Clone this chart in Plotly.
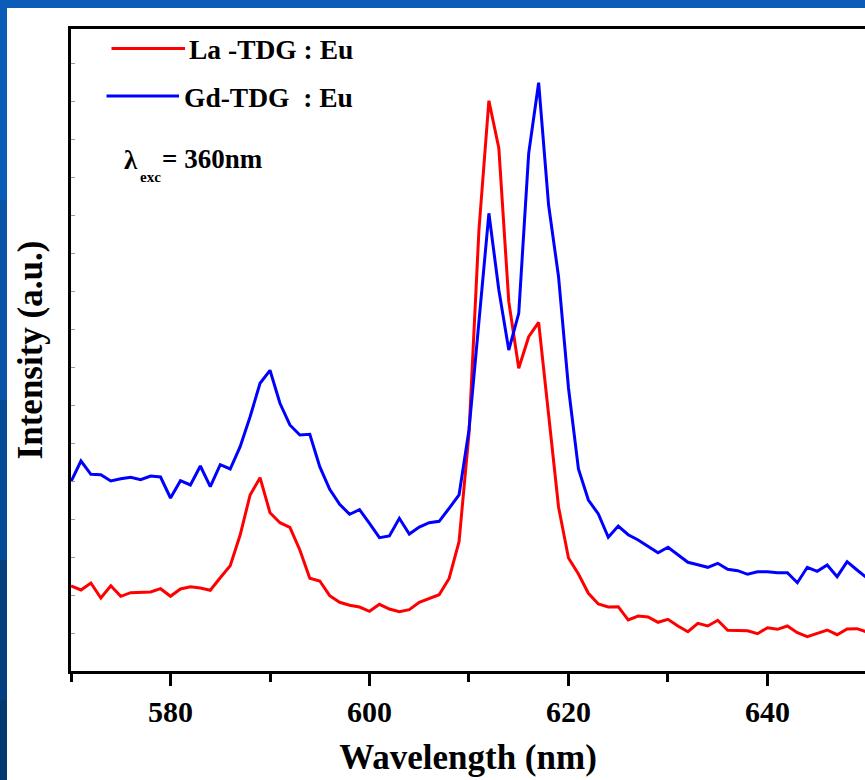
import plotly.graph_objects as go

wavelength = list(range(570, 651))

la_tdg_eu = [85, 81, 88, 73, 85.3, 74.7, 78.3, 78.7, 79, 82.3,
             74.7, 82, 84.3, 83, 80.7, 93.3, 105.3, 136, 176, 193.3,
             158.3, 148.3, 143.7, 121, 92.7, 90, 75.3, 68.7, 65.7, 64,
             59.7, 66.7, 62, 59.3, 61.3, 68.7, 72.7, 76.3, 92.5, 129.3,
             237.7, 441, 570.3, 522.7, 369.3, 302.7, 334.3, 348.7, 256.5, 164,
             113, 97, 77.7, 67, 64, 64.3, 51, 55, 54, 48.7,
             51.7, 45, 39.3, 47.7, 45, 50.7, 40.7, 40.7, 40.3, 37.3,
             43.3, 41.7, 45, 38.3, 34.3, 37.7, 41, 36.3, 42, 42.3, 39]

gd_tdg_eu = [189.3, 210, 196.7, 196.3, 190, 192.3, 193.7, 191.3, 195, 194,
             173, 190.3, 186, 205, 184.3, 206.3, 202, 224.3, 254.3, 287.7,
             300.7, 267.7, 246, 236, 236.7, 204.3, 181.7, 166.7, 156.7, 161.3,
             147.7, 133.3, 135, 152.7, 137, 144, 148.3, 149.7, 162.7, 176,
             241, 348, 457.7, 381, 321, 357.7, 517.7, 588.3, 466, 394.3,
             283, 202, 171, 157, 133.7, 145, 136.3, 131, 124.3, 118.3,
             123.7, 116.3, 108.7, 106.3, 103.7, 107.7, 101.7, 100.3, 96.7, 99.3,
             99.3, 98.3, 98.3, 88.3, 103.7, 99.7, 106, 94.3, 109.3, 101, 93]

x_ticks = [580, 600, 620, 640]

RED = "#ff0000"
BLUE = "#0000ff"
FONT = "Liberation Serif"

# geometry (pixels) for paper conversions
W, H = 865, 780
L, R, T, B = 71, 0, 29, 109
PW = W - L - R
PH = H - T - B


def px(xp):
    return (xp - L) / PW


def py(yp):
    return (H - B - yp) / PH


fig = go.Figure()
fig.add_trace(go.Scatter(x=wavelength, y=la_tdg_eu, mode="lines",
                         line=dict(color=RED, width=3), name="La -TDG : Eu",
                         showlegend=False))
fig.add_trace(go.Scatter(x=wavelength, y=gd_tdg_eu, mode="lines",
                         line=dict(color=BLUE, width=3), name="Gd-TDG : Eu",
                         showlegend=False))

shapes = []
# slide-like blue background with white panel
shapes.append(dict(type="rect", xref="paper", yref="paper", layer="below",
                   x0=px(7), x1=px(W + 5), y0=py(H + 5), y1=py(8),
                   fillcolor="white", line=dict(width=0)))
# darker band at left lower part
bands = [("#0a5cb8", 0, 200), ("#0855a8", 200, 400), ("#064a94", 400, 560),
         ("#053f80", 560, 700), ("#04386f", 700, 785)]
for col, y0p, y1p in bands:
    shapes.append(dict(type="rect", xref="paper", yref="paper", layer="below",
                       x0=px(-5), x1=px(7), y0=py(y1p), y1=py(y0p),
                       fillcolor=col, line=dict(width=0)))
# legend line samples
shapes.append(dict(type="line", xref="paper", yref="paper",
                   x0=px(111.5), x1=px(185), y0=py(48.5), y1=py(48.5),
                   line=dict(color=RED, width=3)))
shapes.append(dict(type="line", xref="paper", yref="paper",
                   x0=px(106.5), x1=px(179), y0=py(96), y1=py(96),
                   line=dict(color=BLUE, width=3)))


def ann(x, y, text, size):
    return dict(xref="paper", yref="paper", x=px(x), y=py(y), xanchor="left",
                yanchor="middle", showarrow=False, text=text,
                font=dict(family=FONT, size=size, color="black", weight="bold"))


annotations = [
    ann(187, 50, "La -TDG : Eu", 27.5),
    ann(182, 97, "Gd-TDG\u00a0 : Eu", 27.5),
    ann(122, 160, "\u03bb", 27),
    ann(138, 177, "exc", 15),
    ann(160, 159, "= 360nm", 27),
]

fig.update_layout(
    width=W, height=H,
    margin=dict(l=L, r=R, t=T, b=B, pad=0),
    paper_bgcolor="#0a5cb8",
    plot_bgcolor="white",
    shapes=shapes,
    annotations=annotations,
    showlegend=False,
    xaxis=dict(
        range=[570, 649.8], tickmode="array", tickvals=x_ticks,
        ticktext=[str(v) for v in x_ticks],
        ticks="outside", ticklen=12, tickwidth=2.5, tickcolor="black",
        minor=dict(tickmode="array", tickvals=[570, 590, 610, 630, 650],
                   ticks="outside", ticklen=8, tickwidth=2.5, tickcolor="black"),
        showline=True, linecolor="black", linewidth=2.5, mirror=True,
        showgrid=False, zeroline=False,
        tickfont=dict(family=FONT, size=30, color="black", weight="bold"),
        title=dict(text="<b>Wavelength (nm)</b>", standoff=18,
                   font=dict(family=FONT, size=35, color="black")),
    ),
    yaxis=dict(
        range=[0, 642], showticklabels=False,
        ticks="inside", ticklen=4, tickwidth=1, tickcolor="#999999",
        tick0=0, dtick=38,
        showline=True, linecolor="black", linewidth=2.5, mirror=False,
        showgrid=False, zeroline=False,
        title=dict(text="<b>Intensity (a.u.)</b>", standoff=16,
                   font=dict(family=FONT, size=35, color="black")),
    ),
)

fig.write_html("out.html",
               config={"displayModeBar": False},
               post_script="document.body.style.margin='0';"
                           "document.body.style.overflow='hidden';")
